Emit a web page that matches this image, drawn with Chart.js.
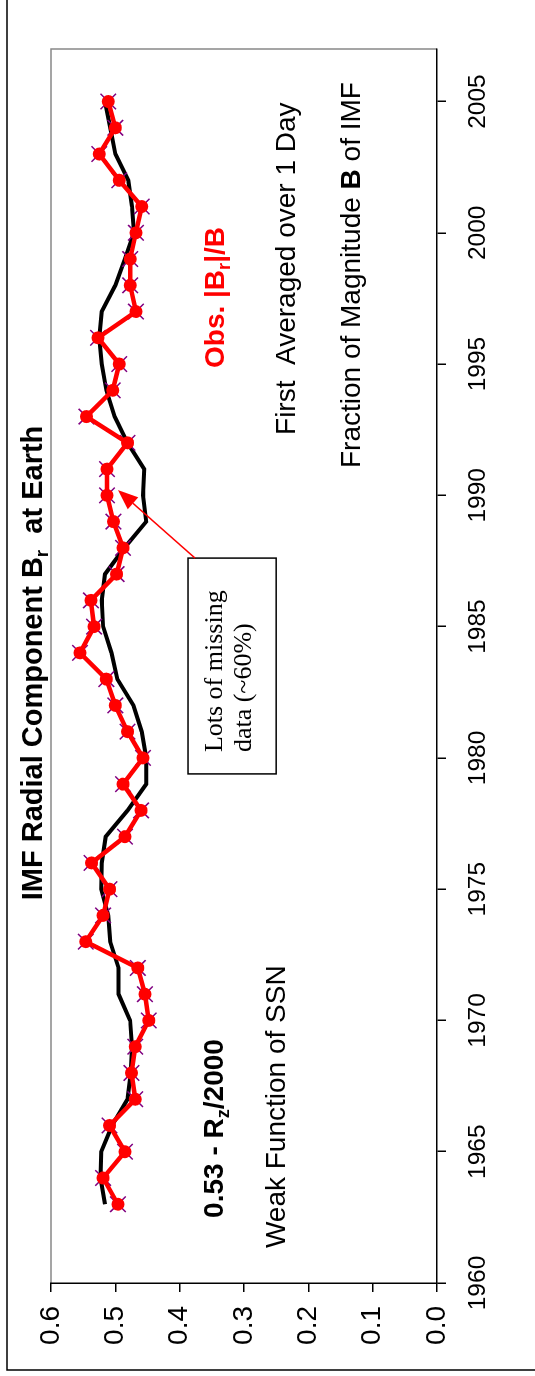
<!DOCTYPE html>
<html>
<head>
<meta charset="utf-8">
<script src="https://cdn.jsdelivr.net/npm/chart.js@4"></script>
<style>
  html, body { margin: 0; padding: 0; background: #fff; }
  #page { position: relative; width: 535px; height: 1376px; overflow: hidden; }
  /* chart is drawn landscape, then turned a quarter to the left */
  #turn {
    position: absolute; left: 0; top: 0; width: 1376px; height: 535px;
    transform-origin: 0 0; transform: translateY(1376px) rotate(-90deg);
  }
</style>
</head>
<body>
<div id="page"><div id="turn"><canvas id="chart-imf" width="1376" height="535"></canvas></div></div>
<script>
const years = [
  1963, 1964, 1965, 1966, 1967, 1968, 1969, 1970, 1971, 1972,
  1973, 1974, 1975, 1976, 1977, 1978, 1979, 1980, 1981, 1982,
  1983, 1984, 1985, 1986, 1987, 1988, 1989, 1990, 1991, 1992,
  1993, 1994, 1995, 1996, 1997, 1998, 1999, 2000, 2001, 2002,
  2003, 2004, 2005,
];
// Obs. |Br|/B
const obsRatio = [
  0.496, 0.519, 0.485, 0.509, 0.469, 0.475, 0.469, 0.448, 0.454, 0.465,
  0.546, 0.519, 0.509, 0.537, 0.485, 0.460, 0.488, 0.457, 0.481, 0.500,
  0.514, 0.555, 0.533, 0.538, 0.498, 0.488, 0.503, 0.513, 0.513, 0.481,
  0.545, 0.504, 0.494, 0.527, 0.468, 0.477, 0.477, 0.468, 0.459, 0.494,
  0.525, 0.500, 0.511,
];
// 0.53 - Rz/2000
const ssnFit = [
  0.516, 0.523, 0.522, 0.505, 0.481, 0.476, 0.474, 0.477, 0.495, 0.495,
  0.508, 0.511, 0.522, 0.521, 0.515, 0.481, 0.452, 0.452, 0.459, 0.472,
  0.497, 0.506, 0.519, 0.521, 0.516, 0.486, 0.452, 0.457, 0.455, 0.481,
  0.501, 0.514, 0.521, 0.525, 0.521, 0.500, 0.485, 0.471, 0.474, 0.480,
  0.500, 0.508, 0.516,
];
const yearTicks = [1960, 1965, 1970, 1975, 1980, 1985, 1990, 1995, 2000, 2005];
const valueTicks = [0, 0.1, 0.2, 0.3, 0.4, 0.5, 0.6];

const canvas = document.querySelector("#chart-imf");

const toPoints = (vals) => vals.map((v, i) => ({ x: years[i], y: v }));

// draw a line of mixed text pieces (bold / subscript / colour)
const drawRuns = (ctx, runs, x, y, size, family) => {
  ctx.textBaseline = "alphabetic";
  ctx.textAlign = "left";
  runs.forEach((r) => {
    const s = r.sub ? size * 0.65 : size;
    ctx.font = `${r.bold ? "bold " : ""}${s}px ${family}`;
    ctx.fillStyle = r.color || "#000";
    ctx.fillText(r.t, x, r.sub ? y + size * 0.2 : y);
    x += ctx.measureText(r.t).width;
  });
  return x;
};
const runsWidth = (ctx, runs, size, family) => {
  let w = 0;
  runs.forEach((r) => {
    const s = r.sub ? size * 0.65 : size;
    ctx.font = `${r.bold ? "bold " : ""}${s}px ${family}`;
    w += ctx.measureText(r.t).width;
  });
  return w;
};

const sans = '"Liberation Sans", Arial, sans-serif';
const serif = '"Liberation Serif", "Times New Roman", serif';

const frameAndNotes = {
  id: "frameAndNotes",
  beforeDraw(chart) {
    const { ctx, chartArea: a } = chart;
    ctx.save();
    ctx.fillStyle = "#fff";
    ctx.fillRect(0, 0, chart.width, chart.height);
    // outer chart frame (only two sides show)
    ctx.strokeStyle = "#000";
    ctx.lineWidth = 1.5;
    ctx.beginPath();
    ctx.moveTo(chart.width, 7);
    ctx.lineTo(6, 7);
    ctx.lineTo(6, chart.height);
    ctx.stroke();
    // plot area grey edges
    ctx.strokeStyle = "#888";
    ctx.beginPath();
    ctx.moveTo(a.left, a.top);
    ctx.lineTo(a.right, a.top);
    ctx.lineTo(a.right, a.bottom);
    ctx.stroke();
    ctx.restore();
  },
  afterDraw(chart) {
    const { ctx, chartArea: a } = chart;
    const xs = chart.scales.x;
    const ys = chart.scales.y;
    const px = (v) => xs.getPixelForValue(v);
    const py = (v) => ys.getPixelForValue(v);
    ctx.save();

    // title
    const title = [
      { t: "IMF Radial Component B", bold: true },
      { t: "r", bold: true, sub: true },
      { t: "  at Earth", bold: true },
    ];
    const tw = runsWidth(ctx, title, 29, sans);
    drawRuns(ctx, title, (a.left + a.right) / 2 + 3 - tw / 2, a.top - 9, 29, sans);

    drawRuns(ctx, [
      { t: "Obs. |B", bold: true, color: "#ff0000" },
      { t: "r", bold: true, sub: true, color: "#ff0000" },
      { t: "|/B", bold: true, color: "#ff0000" },
    ], px(1994.85), py(0.331), 28, sans);
    drawRuns(ctx, [{ t: "First  Averaged over 1 Day" }], px(1992.3), py(0.2207), 28, sans);
    drawRuns(ctx, [
      { t: "Fraction of Magnitude " },
      { t: "B", bold: true },
      { t: " of IMF" },
    ], px(1991.04), py(0.1197), 28, sans);
    drawRuns(ctx, [
      { t: "0.53 - R", bold: true },
      { t: "z", bold: true, sub: true },
      { t: "/2000", bold: true },
    ], px(1962.48), py(0.3326), 28, sans);
    drawRuns(ctx, [{ t: "Weak Function of SSN" }], px(1961.33), py(0.2363), 28, sans);

    // note box
    const bx = px(1979.39), by = py(0.387);
    const bw = px(1987.61) - bx, bh = py(0.25) - by;
    ctx.fillStyle = "#fff";
    ctx.fillRect(bx, by, bw, bh);
    ctx.strokeStyle = "#000";
    ctx.lineWidth = 1.5;
    ctx.strokeRect(bx, by, bw, bh);
    drawRuns(ctx, [{ t: "Lots of missing" }], px(1980.22), py(0.3342), 26, serif);
    drawRuns(ctx, [{ t: "data (~60%)" }], px(1980.22), py(0.2891), 26, serif);

    // arrow to the sparse years
    const x0 = px(1987.61), y0 = py(0.376);
    const x1 = px(1990.2), y1 = py(0.4959);
    const ang = Math.atan2(y1 - y0, x1 - x0);
    const head = 20, half = 8;
    const hx = x1 - head * Math.cos(ang), hy = y1 - head * Math.sin(ang);
    ctx.strokeStyle = "#ff0000";
    ctx.fillStyle = "#ff0000";
    ctx.lineWidth = 1.5;
    ctx.beginPath();
    ctx.moveTo(x0, y0);
    ctx.lineTo(hx, hy);
    ctx.stroke();
    ctx.beginPath();
    ctx.moveTo(x1, y1);
    ctx.lineTo(hx + half * Math.sin(ang), hy - half * Math.cos(ang));
    ctx.lineTo(hx - half * Math.sin(ang), hy + half * Math.cos(ang));
    ctx.closePath();
    ctx.fill();

    ctx.restore();
  },
};

const chartImf = new Chart(canvas, {
  type: "line",
  data: {
    datasets: [
      {
        label: "Obs. |Br|/B",
        data: toPoints(obsRatio),
        borderColor: "#ff0000",
        backgroundColor: "#ff0000",
        borderWidth: 4.5,
        pointStyle: "circle",
        pointRadius: 6.5,
        pointBorderWidth: 0,
        tension: 0,
      },
      {
        label: "marks",
        data: toPoints(obsRatio),
        showLine: false,
        borderColor: "#800080",
        backgroundColor: "#800080",
        pointStyle: "crossRot",
        pointRadius: 11,
        pointBorderWidth: 1.5,
      },
      {
        label: "0.53 - Rz/2000",
        data: toPoints(ssnFit),
        borderColor: "#000",
        borderWidth: 4,
        pointRadius: 0,
        tension: 0,
      },
    ],
  },
  options: {
    responsive: false,
    animation: false,
    events: [],
    layout: { padding: { left: 0, top: 51, right: 49, bottom: 0 } },
    plugins: {
      legend: { display: false },
      title: { display: false },
      tooltip: { enabled: false },
    },
    scales: {
      x: {
        type: "linear",
        min: 1960,
        max: 2007,
        afterBuildTicks: (scale) => {
          scale.ticks = yearTicks.map((v) => ({ value: v }));
        },
        afterFit: (scale) => {
          scale.height = 98;
        },
        grid: { drawOnChartArea: false, tickLength: 9, color: "#000", lineWidth: 1.5 },
        border: { color: "#000", width: 1.5 },
        ticks: {
          color: "#000",
          padding: 18,
          maxRotation: 0,
          autoSkip: false,
          font: { family: sans, size: 24.5 },
          callback: (v) => String(v),
        },
      },
      y: {
        min: 0,
        max: 0.6,
        afterBuildTicks: (scale) => {
          scale.ticks = valueTicks.map((v) => ({ value: v }));
        },
        afterFit: (scale) => {
          scale.width = 93;
        },
        grid: { drawOnChartArea: false, tickLength: 9, color: "#000", lineWidth: 1.5 },
        border: { color: "#000", width: 1.5 },
        ticks: {
          color: "#000",
          padding: 14,
          font: { family: sans, size: 28 },
          callback: (v) => v.toFixed(1),
        },
      },
    },
  },
  plugins: [frameAndNotes],
});
</script>
</body>
</html>
